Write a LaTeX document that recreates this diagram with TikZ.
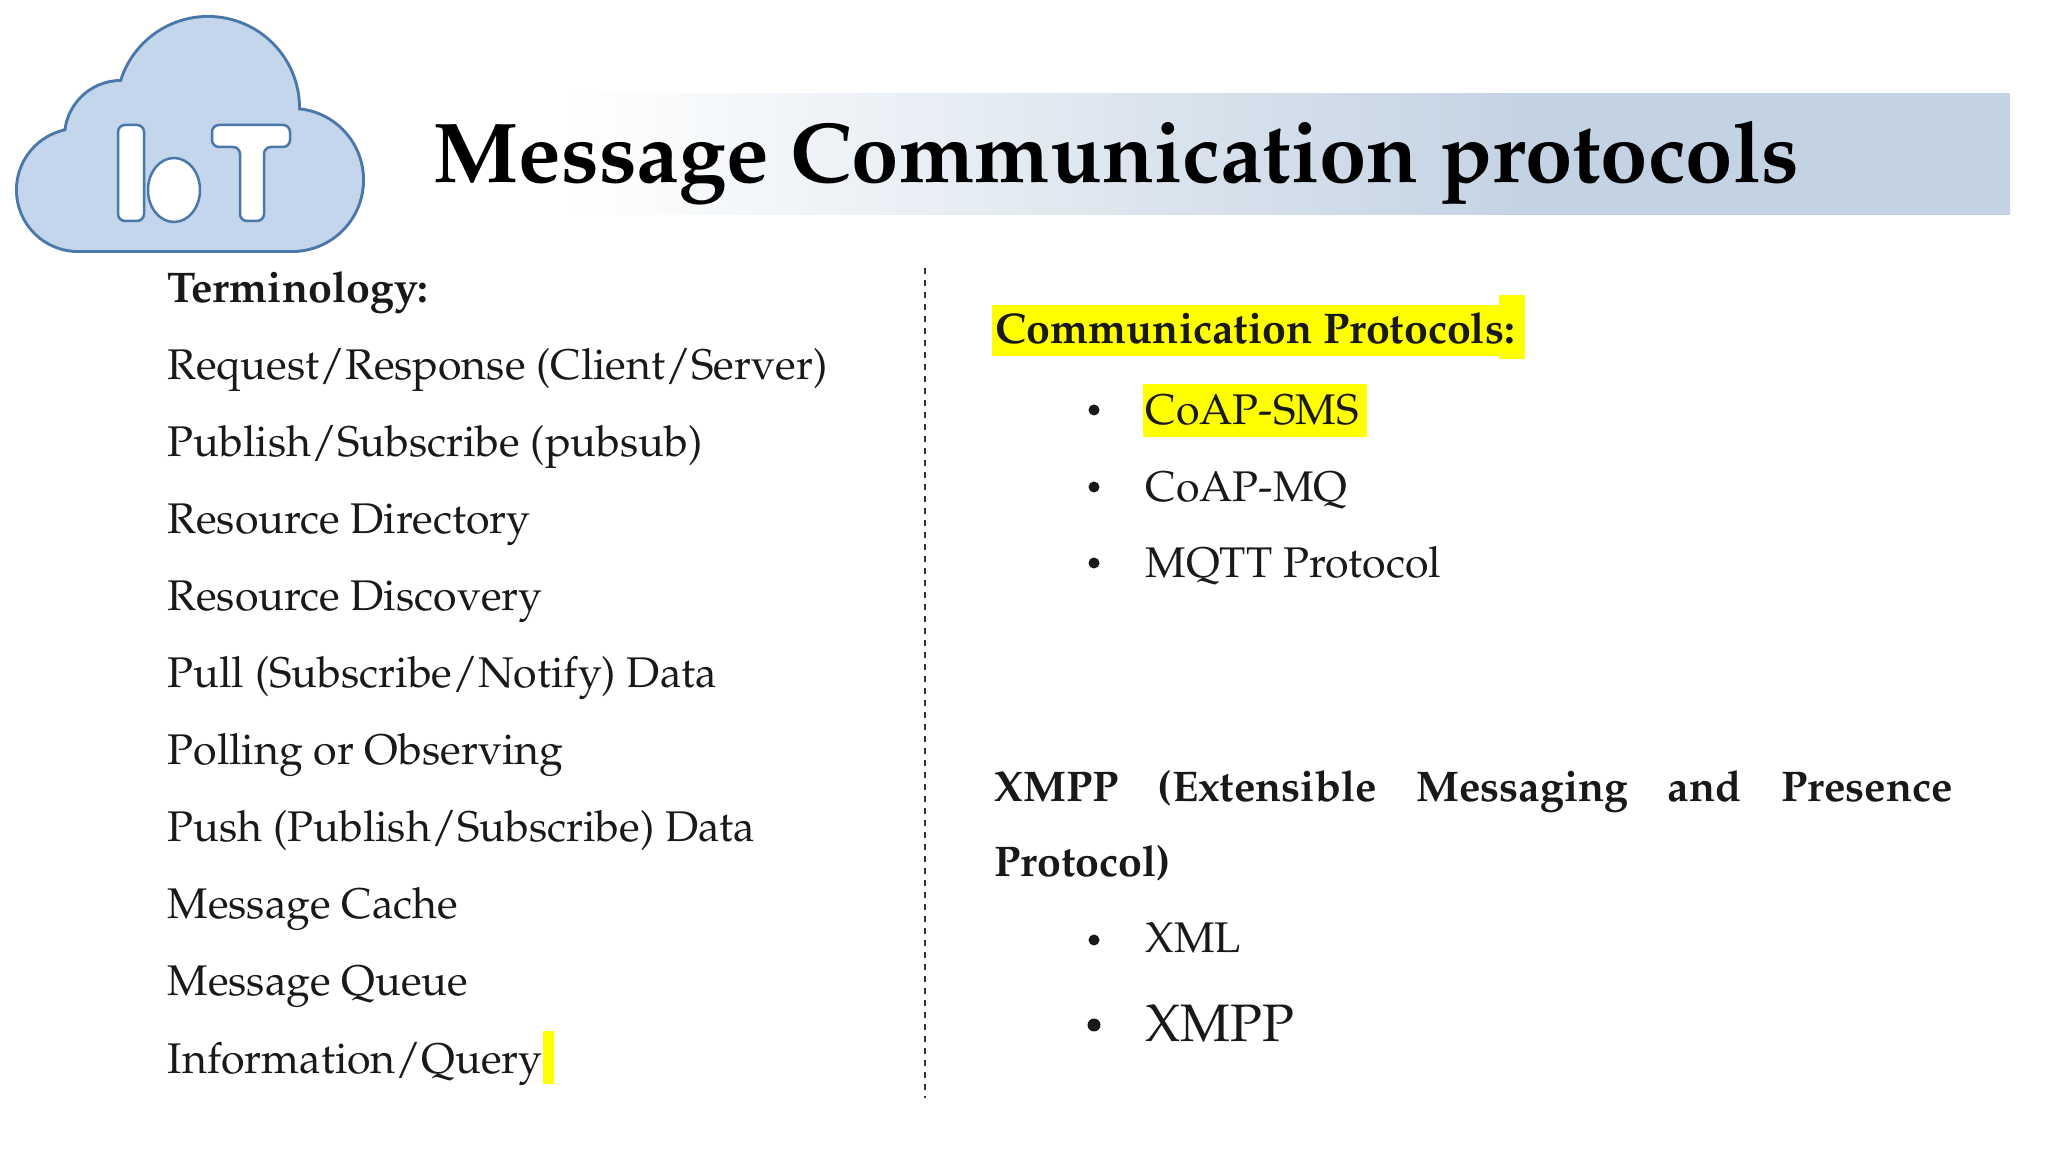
\documentclass[tikz,border=0pt]{standalone}
\usepackage[T1]{fontenc}
\usepackage{mathpazo}
\usetikzlibrary{calc}
\definecolor{cloudfill}{RGB}{196,214,235}
\definecolor{cloudline}{RGB}{74,120,170}
\definecolor{bannerblue}{RGB}{196,211,227}
\definecolor{hilite}{RGB}{255,255,0}
\definecolor{inkgray}{RGB}{25,25,25}
\pgfdeclarehorizontalshading{bannershade}{100bp}{color(0bp)=(white); color(30bp)=(white); color(60bp)=(bannerblue); color(100bp)=(bannerblue)}

\begin{document}
\begin{tikzpicture}[x=0.1mm,y=-0.1mm,
    txt/.style={anchor=base west,inner sep=0pt,text=inkgray,font=\fontsize{12.2pt}{14pt}\selectfont},
    head/.style={txt,font=\fontsize{12.2pt}{14pt}\selectfont\bfseries},
    divider/.style={dash pattern=on 0.6mm off 0.6mm,line width=0.4pt,black!80},
    letter/.style={fill=white,draw=cloudline,line width=0.25mm}]
    \useasboundingbox (0,0) rectangle (2048,1152);
    % cloud logo
    \draw[cloudline,line width=0.6mm] (78,190) circle[radius=60] (292,180) circle[radius=70]
        (208,108) circle[radius=90] (121,137) circle[radius=55] (78,170) rectangle (292,250);
    \fill[cloudfill] (78,190) circle[radius=60];
    \fill[cloudfill] (292,180) circle[radius=70];
    \fill[cloudfill] (208,108) circle[radius=90];
    \fill[cloudfill] (121,137) circle[radius=55];
    \fill[cloudfill] (78,170) rectangle (292,250);
    \filldraw[letter,rounded corners=2] (118,125) rectangle (144,221);
    \filldraw[letter] (174,190) ellipse[x radius=26,y radius=32];
    \filldraw[letter,rounded corners=2] (212,125) -- (290,125) -- (290,147) -- (264,147)
        -- (264,221) -- (240,221) -- (240,147) -- (212,147) -- cycle;
    % title banner
    \shade[shading=bannershade] (400,94) rectangle (2010,215);
    \node[anchor=base west,inner sep=0pt,font=\fontsize{24.2pt}{29pt}\selectfont\bfseries]
        (title) at (433,183) {Message Communication protocols};
    % left column
    \node[head] (term) at (167,303) {Terminology:};
    \node[txt] (reqres) at (167,380) {Request/Response (Client/Server)};
    \node[txt] (pubsub) at (167,457) {Publish/Subscribe (pubsub)};
    \node[txt] (resdir) at (167,534) {Resource Directory};
    \node[txt] (resdisc) at (167,611) {Resource Discovery};
    \node[txt] (pull) at (167,688) {Pull (Subscribe/Notify) Data};
    \node[txt] (poll) at (167,765) {Polling or Observing};
    \node[txt] (push) at (167,842) {Push (Publish/Subscribe) Data};
    \node[txt] (cache) at (167,919) {Message Cache};
    \node[txt] (queue) at (167,996) {Message Queue};
    \node[txt] (info) at (167,1073) {Information/Query};
    \fill[hilite] ($(info.base east)+(0,11)$) rectangle ++(11,-53);
    % divider
    \coordinate (divtop) at (925,268);
    \coordinate (divbot) at (925,1098);
    \draw[divider] (divtop) -- (divbot);
    % right column
    \fill[hilite] (992,305) rectangle (1500,356);
    \fill[hilite] (1499,295) rectangle (1525,359);
    \fill[hilite] (1143,384) rectangle (1367,437);
    \node[head] (comm) at (995,344) {Communication Protocols:};
    \fill[inkgray] (1094,410) circle[radius=5.5];
    \node[txt] (sms) at (1145,425) {CoAP-SMS};
    \fill[inkgray] (1094,487) circle[radius=5.5];
    \node[txt] (mq) at (1145,502) {CoAP-MQ};
    \fill[inkgray] (1094,563) circle[radius=5.5];
    \node[txt] (mqtt) at (1145,578) {MQTT Protocol};
    \node[head] (xmpp) at (994,802)
        {\hbox to 95.8mm{XMPP\hfill(Extensible\hfill Messaging\hfill and\hfill Presence}};
    \node[head] (xmpprest) at (994,877) {Protocol)};
    \fill[inkgray] (1094,940) circle[radius=5.5];
    \node[txt] (xml) at (1145,953) {XML};
    \fill[inkgray] (1094,1025) circle[radius=6.5];
    \node[txt,font=\fontsize{15pt}{18pt}\selectfont] (xmppbig) at (1145,1042) {XMPP};
\end{tikzpicture}
\end{document}
